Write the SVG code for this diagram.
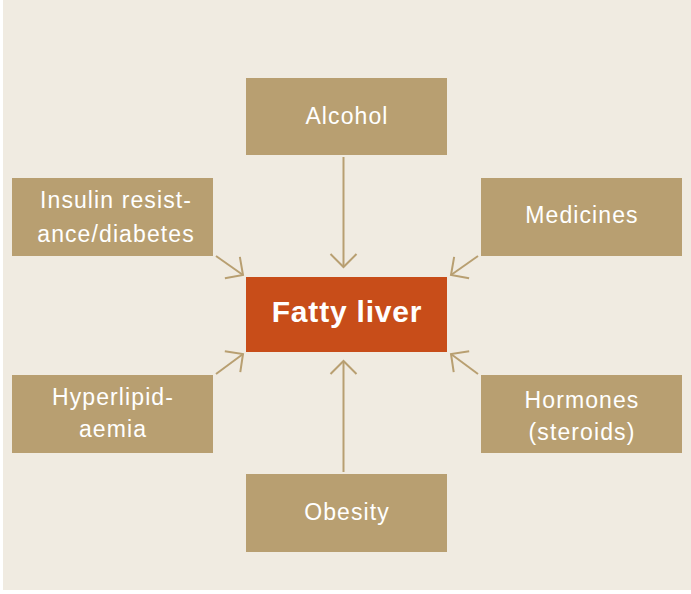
<svg xmlns="http://www.w3.org/2000/svg" width="691" height="594" viewBox="0 0 691 594">
<style>
.box{fill:#B89F71}
.center{fill:#C84D19}
.lbl{font-family:"Liberation Sans",Arial,sans-serif;font-size:23px;fill:#FFFFFF;text-anchor:middle;letter-spacing:1.1px}
.big{font-family:"Liberation Sans",Arial,sans-serif;font-size:30px;font-weight:bold;fill:#FFFFFF;text-anchor:middle;letter-spacing:0.8px}
.conn{stroke:#B89F71;stroke-width:2;fill:none;marker-end:url(#arr)}
</style>
<defs>
<marker id="arr" markerUnits="userSpaceOnUse" markerWidth="30" markerHeight="30" viewBox="-16 -15 20 30" refX="0" refY="0" orient="auto">
<path d="M-13,-13 L0,0 L-13,13" fill="none" stroke="#B89F71" stroke-width="2"/>
</marker>
</defs>
<rect x="0" y="0" width="691" height="594" fill="#FFFFFF"/>
<rect x="3" y="0" width="688" height="590" fill="#F0EBE1"/>
<g id="connectors">
<line class="conn" x1="343.5" y1="157" x2="343.5" y2="267"/>
<line class="conn" x1="343.5" y1="472" x2="343.5" y2="361"/>
<line class="conn" x1="216" y1="256" x2="243" y2="275"/>
<line class="conn" x1="478" y1="256" x2="451" y2="275"/>
<line class="conn" x1="216" y1="374" x2="243" y2="354"/>
<line class="conn" x1="478" y1="374" x2="451" y2="354"/>
</g>
<g id="alcohol"><rect class="box" x="246" y="78" width="201" height="77"/><text class="lbl" x="347" y="124">Alcohol</text></g>
<g id="insulin"><rect class="box" x="12" y="178" width="201" height="78"/><text class="lbl" x="116" y="208">Insulin resist-</text><text class="lbl" x="116" y="242">ance/diabetes</text></g>
<g id="medicines"><rect class="box" x="481" y="178" width="201" height="78"/><text class="lbl" x="582" y="223">Medicines</text></g>
<g id="fatty-liver"><rect class="center" x="246" y="277" width="201" height="75"/><text class="big" x="347" y="322">Fatty liver</text></g>
<g id="hyperlipidaemia"><rect class="box" x="12" y="375" width="201" height="78"/><text class="lbl" x="113" y="405">Hyperlipid-</text><text class="lbl" x="113" y="437">aemia</text></g>
<g id="hormones"><rect class="box" x="481" y="375" width="201" height="78"/><text class="lbl" x="582" y="408">Hormones</text><text class="lbl" x="582" y="440">(steroids)</text></g>
<g id="obesity"><rect class="box" x="246" y="474" width="201" height="78"/><text class="lbl" x="347" y="520">Obesity</text></g>
</svg>
